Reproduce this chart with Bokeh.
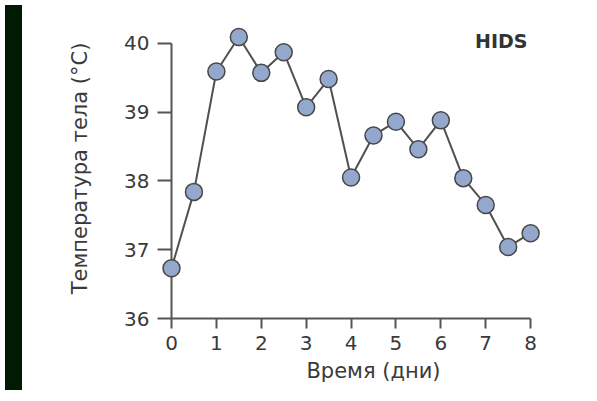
from bokeh.plotting import figure
from bokeh.models import FixedTicker, Label, Div, ColumnDataSource
from bokeh.layouts import row
from bokeh.embed import file_html
from bokeh.resources import INLINE

days = [0, 0.5, 1, 1.5, 2, 2.5, 3, 3.5, 4, 4.5, 5, 5.5, 6, 6.5, 7, 7.5, 8]
temps = [36.73, 37.84, 39.59, 40.09, 39.57, 39.87, 39.07, 39.48, 38.05,
         38.66, 38.86, 38.46, 38.88, 38.04, 37.65, 37.04, 37.24]
x_ticks = [0, 1, 2, 3, 4, 5, 6, 7, 8]
y_ticks = [36, 37, 38, 39, 40]
x_title = "Время (дни)"
y_title = "Температура тела (°C)"
panel_title = "HIDS"

src = ColumnDataSource(dict(x=days, y=temps))

p = figure(width=564, height=385, output_backend="svg", toolbar_location=None,
           x_range=(0, 9.0), y_range=(36, 40.36),
           min_border_left=144, min_border_right=16, min_border_top=18, min_border_bottom=60)
p.background_fill_color = "white"
p.border_fill_color = "white"
p.outline_line_color = None
p.grid.visible = False

p.line("x", "y", source=src, line_color="#505050", line_width=2, level="overlay")
p.scatter("x", "y", source=src, size=17, marker="circle", fill_color="#93a8cc",
          line_color="#474747", line_width=1.5, level="overlay")

axis_color = "#555555"
text_color = "#3a3a3a"
for ax in (p.xaxis[0], p.yaxis[0]):
    ax.axis_line_color = axis_color
    ax.axis_line_width = 2
    ax.major_tick_line_color = axis_color
    ax.major_tick_line_width = 2
    ax.minor_tick_line_color = None
    ax.major_tick_in = 0
    ax.major_label_text_font = "DejaVu Sans"
    ax.major_label_text_font_size = "20px"
    ax.major_label_text_color = text_color
    ax.major_label_text_line_height = 1.0
    ax.axis_label_text_font = "DejaVu Sans"
    ax.axis_label_text_font_style = "normal"
    ax.axis_label_text_color = text_color
    ax.axis_label_text_line_height = 1.0

p.xaxis[0].ticker = FixedTicker(ticks=x_ticks)
p.xaxis[0].bounds = (x_ticks[0], x_ticks[-1])
p.xaxis[0].major_tick_out = 10
p.xaxis[0].major_label_standoff = 7
p.xaxis[0].axis_label = x_title
p.xaxis[0].axis_label_text_font_size = "21px"
p.xaxis[0].axis_label_standoff = 6

p.yaxis[0].ticker = FixedTicker(ticks=y_ticks)
p.yaxis[0].bounds = (y_ticks[0], y_ticks[-1])
p.yaxis[0].major_tick_out = 14
p.yaxis[0].major_label_standoff = 8
p.yaxis[0].axis_label = y_title
p.yaxis[0].axis_label_text_font_size = "21px"
p.yaxis[0].axis_label_standoff = 29

p.add_layout(Label(x=7.93, y=40.03, text=panel_title, text_align="right",
                   text_baseline="alphabetic", text_font="DejaVu Sans",
                   text_font_style="bold", text_font_size="19px", text_color="#333333"))

strip = Div(width=17, height=385, styles={"background-color": "#011a01"})
layout = row(strip, p)

open("out.html", "w").write(file_html(layout, INLINE))
